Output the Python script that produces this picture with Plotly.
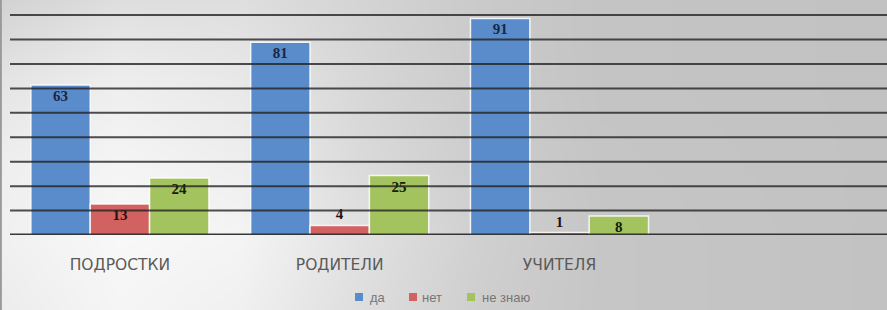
import plotly.graph_objects as go

categories = ["ПОДРОСТКИ", "РОДИТЕЛИ", "УЧИТЕЛЯ"]
series_names = ["да", "нет", "не знаю"]
values_da = [63, 81, 91]
values_net = [13, 4, 1]
values_neznayu = [24, 25, 8]

colors = ["#5a8bcb", "#d26262", "#a2c35d"]
label_colors = ["#1c2640", "#2a1010", "#15200a"]

W, H = 887, 310
# background gradient (styling only)
bg_x = [0, 120, 240, 360, 480, 600, 887]
bg_y = [0, 80, 160, 240, 310]
bg_z = [
    [210, 222, 222, 212, 202, 196, 194],
    [228, 238, 232, 215, 203, 196, 194],
    [238, 244, 238, 218, 205, 197, 194],
    [240, 248, 244, 225, 208, 198, 194],
    [236, 245, 240, 222, 206, 198, 194],
]

fig = go.Figure()
fig.add_trace(go.Heatmap(x=bg_x, y=bg_y, z=bg_z, zmin=0, zmax=255,
                         colorscale=[[0, "rgb(0,0,0)"], [1, "rgb(255,255,255)"]],
                         zsmooth="best", showscale=False, hoverinfo="skip",
                         xaxis="x", yaxis="y", showlegend=False))

all_vals = [values_da, values_net, values_neznayu]
for name, vals, col, lc in zip(series_names, all_vals, colors, label_colors):
    pos = ["inside" if v >= 8 else "outside" for v in vals]
    fig.add_trace(go.Bar(
        x=categories, y=vals, name=name, xaxis="x2", yaxis="y2",
        marker=dict(color=col, line=dict(color="rgba(255,255,255,0.85)", width=1.5)),
        text=[str(v) for v in vals], textposition=pos, insidetextanchor="end",
        textangle=0, constraintext="none", cliponaxis=False,
        textfont=dict(family="Liberation Serif", size=15, color=lc, weight="bold"),
        showlegend=False,
    ))

x_left = 10 / W
y_base = (H - 235) / H
y_top = (H - 3) / H
ymax = 97.5
grid_step = 10.27

shapes = []
for k in range(1, 10):
    shapes.append(dict(type="line", xref="paper", yref="y2", x0=x_left, x1=1,
                       y0=k * grid_step, y1=k * grid_step, layer="above",
                       line=dict(color="rgba(35,35,35,0.8)", width=2)))
shapes.append(dict(type="line", xref="paper", yref="y2", x0=x_left, x1=1,
                   y0=0, y1=0, layer="above",
                   line=dict(color="rgba(35,35,35,0.9)", width=3)))
shapes.append(dict(type="line", xref="paper", yref="paper", x0=0.001, x1=0.001,
                   y0=0, y1=1, layer="above", line=dict(color="#9a9a9a", width=2)))

# custom legend (box, squares, labels)
def px(x):
    return x / W

def py(y):
    return (H - y) / H

shapes.append(dict(type="rect", xref="paper", yref="paper", x0=px(340), x1=px(560),
                   y0=py(310), y1=py(285), layer="below", line=dict(width=0),
                   fillcolor="rgba(255,255,255,0.3)"))
leg_sq_x = [355, 409, 467]
leg_tx_x = [368, 420, 480]
annotations = []
for sx, tx, col, name in zip(leg_sq_x, leg_tx_x, colors, series_names):
    shapes.append(dict(type="rect", xref="paper", yref="paper", x0=px(sx), x1=px(sx + 8),
                       y0=py(301), y1=py(293), layer="above", line=dict(width=0),
                       fillcolor=col))
    annotations.append(dict(xref="paper", yref="paper", x=px(tx), y=py(297),
                            xanchor="left", yanchor="middle", showarrow=False,
                            text=name, font=dict(family="Liberation Sans", size=13,
                                                 color="#767676")))

fig.update_layout(
    width=W, height=H,
    margin=dict(l=0, r=0, t=0, b=0, autoexpand=False),
    paper_bgcolor="#c4c4c4", plot_bgcolor="rgba(0,0,0,0)",
    xaxis=dict(domain=[0, 1], range=[0, W], visible=False, fixedrange=True),
    yaxis=dict(domain=[0, 1], range=[H, 0], visible=False, fixedrange=True),
    xaxis2=dict(domain=[x_left, 1], anchor="y2", range=[-0.5, 3.49],
                showgrid=False, zeroline=False, showline=False, ticks="",
                ticklabelstandoff=18, automargin=False,
                tickfont=dict(family="DejaVu Sans", size=15.5, color="#5a5a5a")),
    yaxis2=dict(domain=[y_base, y_top], anchor="x2", range=[0, ymax], automargin=False,
                showgrid=False, zeroline=False, showticklabels=False, showline=False),
    barmode="group", bargap=0.19, bargroupgap=0.0,
    showlegend=False,
    shapes=shapes,
    annotations=annotations,
)

fig.write_html("out.html", config={"displayModeBar": False},
               post_script="document.body.style.margin='0';document.body.style.padding='0';document.body.style.overflow='hidden';")
